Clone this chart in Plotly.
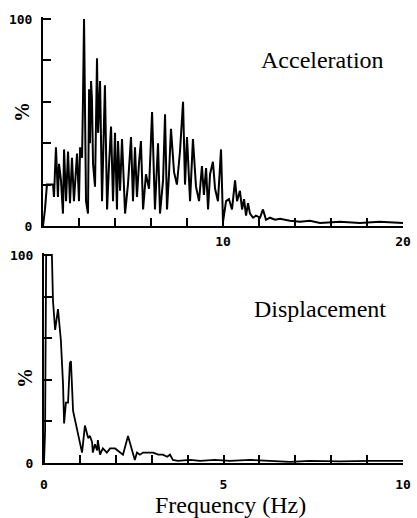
import plotly.graph_objects as go

# Acceleration spectrum (0-20 Hz), % of peak
acc_freq = [0.00, 0.11, 0.22, 0.56, 0.61, 0.72, 0.83, 0.89, 1.00, 1.11, 1.17, 1.28, 1.39, 1.50,
            1.61, 1.72, 1.89, 2.00, 2.06, 2.17, 2.22, 2.28, 2.39, 2.50, 2.56, 2.61, 2.67, 2.72,
            2.78, 2.89, 3.00, 3.06, 3.17, 3.28, 3.44, 3.56, 3.67, 3.78, 3.89, 4.00, 4.11, 4.17,
            4.28, 4.39, 4.56, 4.72, 4.89, 5.00, 5.11, 5.22, 5.33, 5.44, 5.56, 5.72, 5.89, 6.06,
            6.22, 6.39, 6.50, 6.67, 6.78, 6.89, 7.00, 7.11, 7.28, 7.44, 7.61, 7.78, 7.89, 8.00,
            8.17, 8.33, 8.50, 8.67, 8.83, 8.94, 9.06, 9.17, 9.28, 9.44, 9.56, 9.72, 9.89, 10.00,
            10.17, 10.33, 10.50, 10.67, 10.78, 10.94, 11.06, 11.17, 11.28, 11.39, 11.50, 11.67,
            11.83, 12.06, 12.22, 12.39, 12.61, 12.89, 13.17, 13.72, 14.28, 14.83, 15.39, 16.5,
            17.6, 18.7, 20.0]
acc_pct = [0, 8, 20, 20, 14, 38, 14, 30, 22, 6, 37, 12, 36, 11,
           33, 12, 35, 12, 38, 33, 60, 100, 12, 6, 66, 40, 70, 61,
           30, 19, 81, 45, 70, 12, 68, 8, 30, 48, 12, 45, 8, 41,
           17, 42, 6, 20, 43, 12, 38, 14, 30, 41, 8, 25, 18, 55,
           8, 40, 6, 22, 54, 8, 25, 47, 26, 20, 36, 60, 20, 43,
           12, 42, 19, 12, 29, 15, 28, 8, 25, 31, 18, 12, 37, 2,
           12, 13, 8, 22, 12, 17, 8, 13, 5, 11, 6, 4,
           5, 4, 8, 3, 4, 3, 3.5, 2.5, 2, 2.5, 1.5, 2,
           1.5, 2, 1.5]

# Displacement spectrum (0-10 Hz), % of peak
dis_freq = [0.00, 0.03, 0.06, 0.22, 0.25, 0.31, 0.39, 0.47, 0.53, 0.56, 0.61, 0.67, 0.72, 0.75,
            0.81, 0.92, 1.00, 1.06, 1.14, 1.23, 1.28, 1.34, 1.36, 1.42, 1.48, 1.50, 1.56, 1.64,
            1.75, 1.84, 1.98, 2.12, 2.20, 2.34, 2.45, 2.53, 2.59, 2.67, 2.76, 2.90, 3.04, 3.18,
            3.31, 3.43, 3.51, 3.59, 3.73, 4.07, 4.35, 4.76, 5.18, 5.74, 6.30, 6.85, 7.41, 8.25,
            9.08, 10.0]
dis_pct = [0, 15, 100, 100, 78, 64, 74, 59, 38, 19, 29, 29, 48, 49,
           25, 16, 10, 5, 18, 12, 13, 10, 5, 9, 6, 11, 4, 7,
           5, 7, 7, 5, 4, 13, 6, 1.5, 5, 4, 5, 5, 5, 4,
           4, 3, 4, 1.5, 1, 1.5, 1, 1.5, 1, 1.5, 1, 0.5, 1, 0.8,
           1, 1]

acc_xticks = list(range(0, 21, 2))
acc_xtext = ["" if v not in (10, 20) else str(v) for v in acc_xticks]
dis_xticks = list(range(0, 11, 1))
dis_xtext = [str(v) if v in (0, 5, 10) else "" for v in dis_xticks]
yticks = [0, 20, 40, 60, 80, 100]
ytext = ["0", "", "", "", "", "100"]

W, H = 417, 518
fig = go.Figure()
fig.add_trace(go.Scatter(x=acc_freq, y=acc_pct, mode="lines",
                         line=dict(color="black", width=2), xaxis="x", yaxis="y"))
fig.add_trace(go.Scatter(x=dis_freq, y=dis_pct, mode="lines",
                         line=dict(color="black", width=1.8), xaxis="x2", yaxis="y2"))

tickfont = dict(family="DejaVu Sans Mono", size=13, color="black", weight="bold")
axis_common = dict(showline=True, linecolor="black", linewidth=2, ticks="inside",
                   ticklen=8, tickwidth=1.5, tickcolor="black", showgrid=False,
                   zeroline=False, mirror=False, tickfont=tickfont, fixedrange=True,
                   automargin=False)

top_y0, top_y100 = 226, 19
ppu = (top_y0 - top_y100) / 100
top_ytop = top_y0 - 101 * ppu
bot_y0, bot_y100 = 463, 255
ppu2 = (bot_y0 - bot_y100) / 100
bot_ytop = bot_y0 - 101 * ppu2

fig.update_layout(
    width=W, height=H, margin=dict(l=0, r=0, t=0, b=0, pad=0, autoexpand=False),
    paper_bgcolor="white", plot_bgcolor="white", showlegend=False,
    xaxis=dict(domain=[43 / W, 403 / W], range=[0, 20], anchor="y",
               tickvals=acc_xticks, ticktext=acc_xtext, ticklabelstandoff=2, **axis_common),
    yaxis=dict(domain=[1 - top_y0 / H, 1 - top_ytop / H], range=[0, 101], anchor="x",
               tickvals=yticks, ticktext=ytext, ticklabelstandoff=6, **axis_common),
    xaxis2=dict(domain=[44 / W, 403 / W], range=[0, 10], anchor="y2",
                tickvals=dis_xticks, ticktext=dis_xtext, ticklabelstandoff=8, **axis_common),
    yaxis2=dict(domain=[1 - bot_y0 / H, 1 - bot_ytop / H], range=[0, 101], anchor="x2",
                tickvals=yticks, ticktext=ytext, ticklabelstandoff=6, **axis_common),
)

serif = "Liberation Serif"
ann = dict(xref="paper", yref="paper", showarrow=False, xanchor="center", yanchor="middle")
fig.add_annotation(x=322 / W, y=1 - 60 / H, text="Acceleration",
                   font=dict(family=serif, size=24, color="black"), **ann)
fig.add_annotation(x=320 / W, y=1 - 309 / H, text="Displacement",
                   font=dict(family=serif, size=24, color="black"), **ann)
fig.add_annotation(x=230 / W, y=1 - 505 / H, text="Frequency (Hz)",
                   font=dict(family=serif, size=24, color="black"), **ann)
fig.add_annotation(x=22 / W, y=1 - 112 / H, text="<b>%</b>", textangle=-90,
                   font=dict(family=serif, size=20, color="black"), **ann)
fig.add_annotation(x=25 / W, y=1 - 378 / H, text="<b>%</b>", textangle=-90,
                   font=dict(family=serif, size=20, color="black"), **ann)

fig.write_html("out.html")
